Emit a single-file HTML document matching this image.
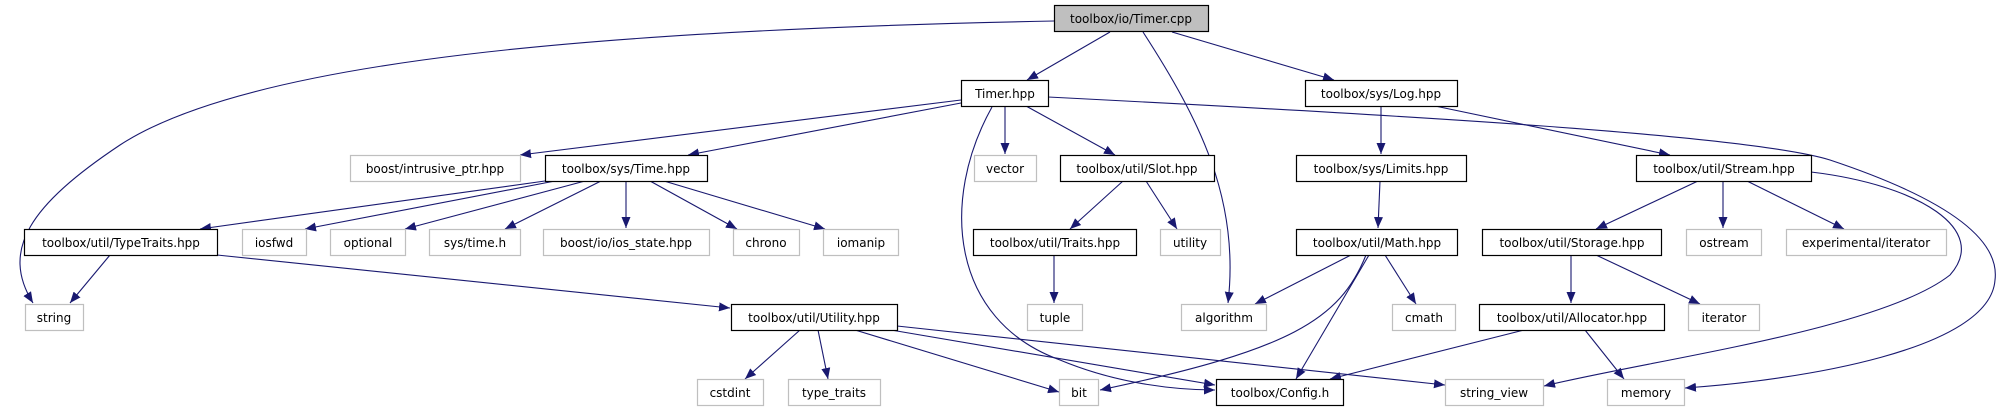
<!DOCTYPE html>
<html><head><meta charset="utf-8"><style>
html,body{margin:0;padding:0;background:#fff}
svg{display:block}
text{font-family:"DejaVu Sans","Liberation Sans",sans-serif;font-size:12px;fill:#000}
</style></head><body>
<svg width="2000" height="411" viewBox="0 0 2000 411" xmlns="http://www.w3.org/2000/svg">
<defs>
<marker id="a" markerUnits="userSpaceOnUse" markerWidth="12" markerHeight="10" refX="11" refY="5" orient="auto">
<path d="M0,0.5 L11,5 L0,9.5 z" fill="#191970"/>
</marker>
</defs>
<g fill="none" stroke="#191970" stroke-width="1.1" marker-end="url(#a)">
<path d="M1054,21 C600,30 250,60 120,145 C30,205 0,250 33,303"/>
<path d="M1110,32 L1027,80"/>
<path d="M1143,32 C1200,120 1240,200 1228,303"/>
<path d="M1172,32 L1334,80"/>
<path d="M961,100 L520,155"/>
<path d="M961,103 L688,155"/>
<path d="M992,107 C940,200 950,320 1060,360 C1120,385 1180,390 1215,390"/>
<path d="M1005,106 L1005,154"/>
<path d="M1026,106 L1115,155"/>
<path d="M1048,97 C1400,115 1750,135 1830,160 C1950,200 2000,240 1995,280 C1990,350 1800,380 1685,388"/>
<path d="M1381,106 L1381,154"/>
<path d="M1435,106 L1670,155"/>
<path d="M545,181 L200,229"/>
<path d="M555,181 L305,229"/>
<path d="M585,181 L405,229"/>
<path d="M601,181 L505,229"/>
<path d="M626,181 L626,228"/>
<path d="M650,181 L737,229"/>
<path d="M664,181 L825,229"/>
<path d="M1123,181 L1070,229"/>
<path d="M1146,181 L1177,229"/>
<path d="M1380,181 L1378,228"/>
<path d="M1698,181 L1596,229"/>
<path d="M1723,181 L1723,228"/>
<path d="M1747,181 L1844,229"/>
<path d="M1811,172 C1920,185 1990,230 1950,275 C1880,330 1650,360 1544,386"/>
<path d="M110,255 L70,303"/>
<path d="M217,255 L730,308"/>
<path d="M1054,255 L1054,303"/>
<path d="M1351,255 L1255,304"/>
<path d="M1366,255 C1340,320 1290,350 1100,390"/>
<path d="M1369,255 L1296,379"/>
<path d="M1385,255 L1416,304"/>
<path d="M1571,255 L1571,303"/>
<path d="M1596,255 L1700,304"/>
<path d="M800,330 L745,379"/>
<path d="M818,330 L828,379"/>
<path d="M855,330 L1059,392"/>
<path d="M891,330 L1215,385"/>
<path d="M897,326 L1445,385"/>
<path d="M1524,330 L1330,379"/>
<path d="M1585,330 L1624,379"/>
</g>
<g stroke-width="1.2">
<rect x="1054.5" y="5.5" width="154" height="26" fill="#bfbfbf" stroke="#000"/>
<g fill="#fff" stroke="#000">
<rect x="961.5" y="80.5" width="87" height="26"/>
<rect x="1305.5" y="80.5" width="152" height="26"/>
<rect x="545.5" y="155.5" width="162" height="26"/>
<rect x="1060.5" y="155.5" width="154" height="26"/>
<rect x="1296.5" y="155.5" width="170" height="26"/>
<rect x="1636.5" y="155.5" width="175" height="26"/>
<rect x="24.5" y="229.5" width="193" height="26"/>
<rect x="973.5" y="229.5" width="163" height="26"/>
<rect x="1296.5" y="229.5" width="161" height="26"/>
<rect x="1482.5" y="229.5" width="179" height="26"/>
<rect x="731.5" y="304.5" width="166" height="26"/>
<rect x="1479.5" y="304.5" width="185" height="26"/>
<rect x="1216.5" y="379.5" width="127" height="26"/>
</g>
<g fill="#fff" stroke="#bfbfbf">
<rect x="350.5" y="155.5" width="170" height="26"/>
<rect x="974.5" y="155.5" width="62" height="26"/>
<rect x="242.5" y="229.5" width="64" height="26"/>
<rect x="330.5" y="229.5" width="75" height="26"/>
<rect x="429.5" y="229.5" width="91" height="26"/>
<rect x="543.5" y="229.5" width="166" height="26"/>
<rect x="733.5" y="229.5" width="66" height="26"/>
<rect x="823.5" y="229.5" width="75" height="26"/>
<rect x="1160.5" y="229.5" width="60" height="26"/>
<rect x="1686.5" y="229.5" width="75" height="26"/>
<rect x="1786.5" y="229.5" width="160" height="26"/>
<rect x="25.5" y="304.5" width="58" height="26"/>
<rect x="1027.5" y="304.5" width="55" height="26"/>
<rect x="1181.5" y="304.5" width="85" height="26"/>
<rect x="1392.5" y="304.5" width="63" height="26"/>
<rect x="1688.5" y="304.5" width="71" height="26"/>
<rect x="697.5" y="379.5" width="66" height="26"/>
<rect x="788.5" y="379.5" width="92" height="26"/>
<rect x="1059.5" y="379.5" width="39" height="26"/>
<rect x="1445.5" y="379.5" width="98" height="26"/>
<rect x="1607.5" y="379.5" width="77" height="26"/>
</g>
</g>
<g text-anchor="middle">
<text x="1131" y="23">toolbox/io/Timer.cpp</text>
<text x="1005" y="98">Timer.hpp</text>
<text x="1381" y="98">toolbox/sys/Log.hpp</text>
<text x="435" y="173">boost/intrusive_ptr.hpp</text>
<text x="626" y="173">toolbox/sys/Time.hpp</text>
<text x="1005" y="173">vector</text>
<text x="1137" y="173">toolbox/util/Slot.hpp</text>
<text x="1381" y="173">toolbox/sys/Limits.hpp</text>
<text x="1724" y="173">toolbox/util/Stream.hpp</text>
<text x="121" y="247">toolbox/util/TypeTraits.hpp</text>
<text x="274" y="247">iosfwd</text>
<text x="368" y="247">optional</text>
<text x="475" y="247">sys/time.h</text>
<text x="626" y="247">boost/io/ios_state.hpp</text>
<text x="766" y="247">chrono</text>
<text x="861" y="247">iomanip</text>
<text x="1055" y="247">toolbox/util/Traits.hpp</text>
<text x="1190" y="247">utility</text>
<text x="1377" y="247">toolbox/util/Math.hpp</text>
<text x="1572" y="247">toolbox/util/Storage.hpp</text>
<text x="1724" y="247">ostream</text>
<text x="1866" y="247">experimental/iterator</text>
<text x="54" y="322">string</text>
<text x="814" y="322">toolbox/util/Utility.hpp</text>
<text x="1055" y="322">tuple</text>
<text x="1224" y="322">algorithm</text>
<text x="1424" y="322">cmath</text>
<text x="1572" y="322">toolbox/util/Allocator.hpp</text>
<text x="1724" y="322">iterator</text>
<text x="730" y="397">cstdint</text>
<text x="834" y="397">type_traits</text>
<text x="1079" y="397">bit</text>
<text x="1280" y="397">toolbox/Config.h</text>
<text x="1494" y="397">string_view</text>
<text x="1646" y="397">memory</text>
</g>
</svg>
</body></html>
